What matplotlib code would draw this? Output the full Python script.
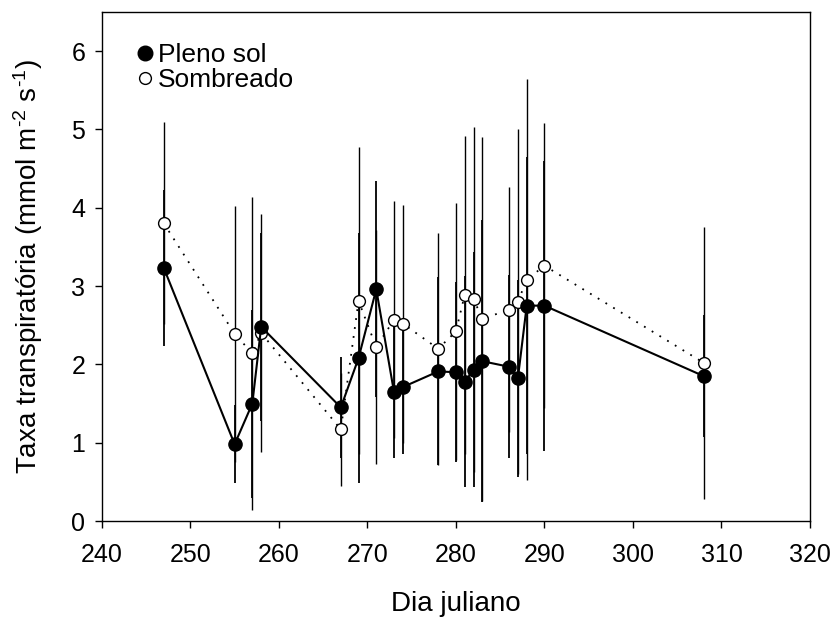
import numpy as np
import matplotlib
matplotlib.use("Agg")
from matplotlib import pyplot as plt
from matplotlib.lines import Line2D

plt.rcParams['font.family'] = ['Liberation Sans', 'DejaVu Sans']
plt.rcParams['mathtext.default'] = 'regular'

# dados
dia = [247, 255, 257, 258, 267, 269, 271, 273, 274, 278,
       280, 281, 282, 283, 286, 287, 288, 290, 308]
pleno_sol = [3.23, 0.98, 1.50, 2.48, 1.45, 2.08, 2.96, 1.65, 1.71, 1.91,
             1.90, 1.78, 1.93, 2.04, 1.97, 1.82, 2.75, 2.75, 1.85]
pleno_sol_err = [1.00, 0.50, 1.20, 1.20, 0.65, 1.60, 1.38, 0.85, 0.85, 1.20,
                 1.15, 1.35, 1.50, 1.80, 1.17, 1.26, 1.90, 1.85, 0.78]
sombreado = [3.80, 2.39, 2.14, 2.40, 1.17, 2.81, 2.22, 2.57, 2.52, 2.20,
             2.42, 2.89, 2.83, 2.58, 2.70, 2.80, 3.08, 3.26, 2.02]
sombreado_err = [1.29, 1.63, 2.00, 1.52, 0.72, 1.96, 1.49, 1.51, 1.52, 1.48,
                 1.64, 2.03, 2.20, 2.32, 1.56, 2.20, 2.56, 1.82, 1.74]

fig = plt.figure(figsize=(8.35, 6.27), dpi=100)
ax = fig.add_axes([0.122, 0.169, 0.848, 0.812])

# barras de erro
ax.errorbar(dia, sombreado, yerr=sombreado_err, fmt='none', ecolor='black',
            elinewidth=1.0, capsize=0, zorder=1)
ax.errorbar(dia, pleno_sol, yerr=pleno_sol_err, fmt='none', ecolor='black',
            elinewidth=1.3, capsize=0, zorder=1)

# linhas
ax.plot(dia, sombreado, color='black', linestyle=(0, (1, 4)), linewidth=1.3,
        marker='o', markersize=8.5, markerfacecolor='white',
        markeredgecolor='black', markeredgewidth=1.0, zorder=3)
ax.plot(dia, pleno_sol, color='black', linestyle='-', linewidth=1.5,
        marker='o', markersize=9.5, markerfacecolor='black',
        markeredgecolor='black', zorder=4)

ax.set_xlim(240, 320)
ax.set_ylim(0, 6.5)
ax.set_xticks(np.arange(240, 321, 10))
ax.set_yticks(np.arange(0, 7, 1))
ax.tick_params(direction='out', length=5, width=1, labelsize=18,
               top=False, right=False)
ax.tick_params(axis='x', pad=11)
ax.tick_params(axis='y', pad=7)
for s in ax.spines.values():
    s.set_linewidth(1)

ax.set_xlabel('Dia juliano', fontsize=20, labelpad=17)
ax.set_ylabel('Taxa transpiratória (mmol m$^{\u20102}$ s$^{\u20101}$)',
              fontsize=20, labelpad=19)

handles = [Line2D([], [], linestyle='none', marker='o', markersize=10.5,
                  markerfacecolor='black', markeredgecolor='black'),
           Line2D([], [], linestyle='none', marker='o', markersize=8.5,
                  markerfacecolor='white', markeredgecolor='black')]
ax.legend(handles, ['Pleno sol', 'Sombreado'], loc='upper left',
          frameon=False, fontsize=19, handletextpad=0.0, handlelength=1.0,
          labelspacing=0.05, borderaxespad=0.3, bbox_to_anchor=(0.016, 0.975))

fig.savefig('out.png', dpi=100)
